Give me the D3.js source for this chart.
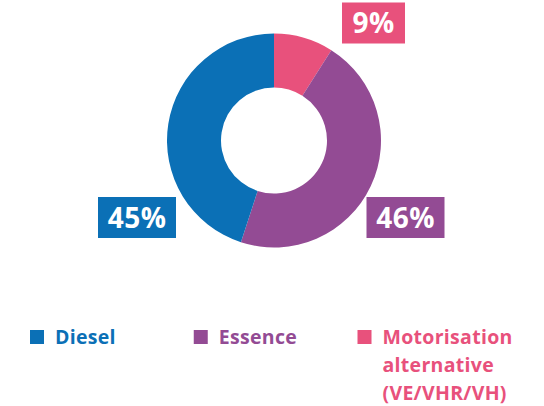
<!DOCTYPE html>
<html lang="fr">
<head>
<meta charset="utf-8">
<title>Motorisation</title>
<script src="https://cdn.jsdelivr.net/npm/d3@7"></script>
<style>
	body { margin: 0; background: #fff; }
	svg text { font-family: "Open Sans", "DejaVu Sans", sans-serif; font-weight: 700; }
</style>
</head>
<body>
<script>
	// data
	const categories = ["Motorisation alternative (VE/VHR/VH)", "Essence", "Diesel"];
	const values = [9, 46, 45];
	const colors = ["#e8517c", "#934b94", "#0b70b6"];

	// legend order + line breaks
	const legendOrder = ["Diesel", "Essence", "Motorisation alternative (VE/VHR/VH)"];
	const legendLines = [["Diesel"], ["Essence"], ["Motorisation", "alternative", "(VE/VHR/VH)"]];

	const w = 544, h = 406;
	const cx = 274, cy = 140.5;
	const outerR = 107, innerR = 53;

	const svg = d3.select("body").append("svg")
		.attr("width", w)
		.attr("height", h);

	const color = d3.scaleOrdinal().domain(categories).range(colors);

	const pie = d3.pie().sort(null).value(d => d.value);
	const arc = d3.arc().innerRadius(innerR).outerRadius(outerR);

	const rows = categories.map((c, i) => ({ key: c, value: values[i] }));
	const arcs = pie(rows);

	const g = svg.append("g").attr("transform", "translate(" + cx + "," + cy + ")");

	g.selectAll("path")
		.data(arcs)
		.enter()
		.append("path")
		.attr("d", arc)
		.attr("fill", d => color(d.data.key));

	// label boxes: offset of box centre from the donut centre (layout only)
	const labelOffset = {
		"Motorisation alternative (VE/VHR/VH)": [99.5, -117.5],
		"Essence": [131.5, 77],
		"Diesel": [-137, 77]
	};
	const boxW = 78, boxH = 41;

	const labels = g.selectAll("g.lab")
		.data(arcs)
		.enter()
		.append("g")
		.attr("class", "lab")
		.attr("transform", d => "translate(" + labelOffset[d.data.key][0] + "," + labelOffset[d.data.key][1] + ")");

	labels.append("rect")
		.attr("x", d => d.data.value < 10 ? -31.5 : -boxW / 2)
		.attr("width", d => d.data.value < 10 ? 63 : boxW)
		.attr("y", -boxH / 2)
		.attr("height", boxH)
		.attr("fill", d => color(d.data.key));

	labels.append("text")
		.attr("text-anchor", "middle")
		.attr("dy", "0.36em")
		.attr("fill", "#fff")
		.attr("font-size", "28px")
		.attr("letter-spacing", "0.5px")
		.text(d => d.data.value + "%");

	// legend
	const legendX = d3.scalePoint().domain(legendOrder).range([30, 357.5]);

	const leg = svg.selectAll("g.legend")
		.data(legendOrder)
		.enter()
		.append("g")
		.attr("class", "legend")
		.attr("transform", d => "translate(" + legendX(d) + ",330)");

	leg.append("rect")
		.attr("width", 14)
		.attr("height", 14)
		.attr("fill", d => color(d));

	leg.append("text")
		.attr("x", 26)
		.attr("fill", d => color(d))
		.attr("font-size", "19.5px")
		.attr("letter-spacing", "0.3px")
		.selectAll("tspan")
		.data((d, i) => legendLines[i])
		.enter()
		.append("tspan")
		.attr("x", 25)
		.attr("y", (d, i) => 14 + i * 28)
		.text(d => d);
</script>
</body>
</html>
